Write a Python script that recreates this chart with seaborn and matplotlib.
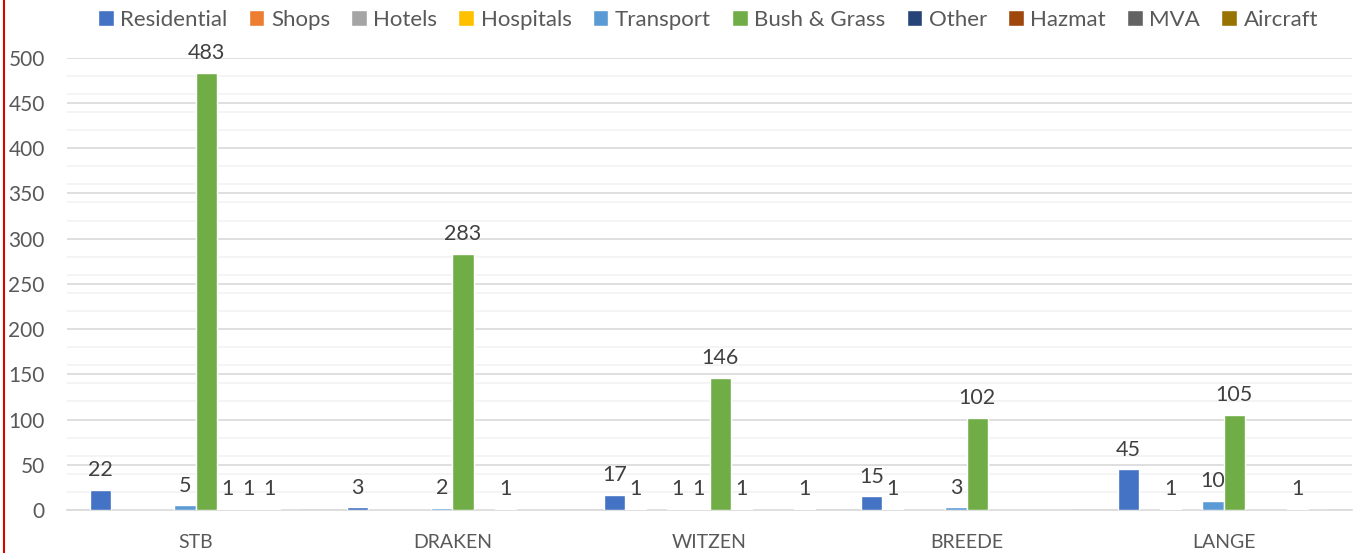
import matplotlib
matplotlib.use("Agg")
import matplotlib.pyplot as plt
import seaborn as sns
import pandas as pd
import numpy as np
from matplotlib.lines import Line2D
from matplotlib.ticker import MultipleLocator

categories = ["STB", "DRAKEN", "WITZEN", "BREEDE", "LANGE"]
series = ["Residential", "Shops", "Hotels", "Hospitals", "Transport",
          "Bush & Grass", "Other", "Hazmat", "MVA", "Aircraft"]
residential = [22, 3, 17, 15, 45]
shops = [0, 0, 1, 1, 0]
hotels = [0, 0, 0, 0, 1]
hospitals = [0, 0, 1, 0, 0]
transport = [5, 2, 1, 3, 10]
bush_grass = [483, 283, 146, 102, 105]
other = [1, 0, 1, 0, 0]
hazmat = [1, 1, 0, 0, 0]
mva = [1, 0, 0, 0, 1]
aircraft = [0, 0, 1, 0, 0]
colors = ["#4472C4", "#ED7D31", "#A5A5A5", "#FFC000", "#5B9BD5",
          "#70AD47", "#264478", "#9E480E", "#636363", "#997300"]

values = [residential, shops, hotels, hospitals, transport,
          bush_grass, other, hazmat, mva, aircraft]
rows = []
for s, vals in zip(series, values):
    for c, v in zip(categories, vals):
        rows.append({"Station": c, "Type": s, "Count": v})
df = pd.DataFrame(rows)

sns.set_style("white")
plt.rcParams["font.family"] = ["Lato", "DejaVu Sans"]
text_color = "#595959"

fig = plt.figure(figsize=(13.59, 5.53), dpi=100)
ax = fig.add_axes([67/1359, 43/553, (1352-67)/1359, (510-57.7)/553])

sns.barplot(data=df, x="Station", y="Count", hue="Type", order=categories,
            hue_order=series, palette=colors, width=0.82, gap=0,
            saturation=1, ax=ax, legend=True, errorbar=None, zorder=3)

for cont, s in zip(ax.containers, series):
    labels = [f"{int(b.get_height())}" if b.get_height() > 0 else "" for b in cont]
    ax.bar_label(cont, labels=labels, padding=7, fontsize=15.5, color="#404040")

ax.set_ylim(0, 500)
ax.yaxis.set_major_locator(MultipleLocator(50))
ax.yaxis.set_minor_locator(MultipleLocator(20))
ax.grid(axis="y", which="major", color="#D9D9D9", linewidth=1.2, zorder=0)
ax.grid(axis="y", which="minor", color="#F2F2F2", linewidth=1.2, zorder=0)
ax.set_axisbelow(True)
for sp in ["top", "right", "left"]:
    ax.spines[sp].set_visible(False)
ax.spines["bottom"].set_color("#D9D9D9")
ax.spines["bottom"].set_linewidth(1.2)
ax.tick_params(axis="y", which="both", length=0, pad=16, labelsize=15, labelcolor=text_color)
ax.tick_params(axis="x", length=0, pad=17, labelsize=14, labelcolor=text_color)
ax.set_xlabel("")
ax.set_ylabel("")

handles, labs = ax.get_legend_handles_labels()
ax.legend(handles, labs, loc="center", bbox_to_anchor=(0.521, 0.964),
          bbox_transform=fig.transFigure, ncol=10, frameon=False,
          handlelength=0.7, handleheight=0.7, handletextpad=0.3,
          columnspacing=0.95, fontsize=16, labelcolor=text_color)

fig.add_artist(Line2D([4/1359, 4/1359], [0, 1], transform=fig.transFigure,
                      color="#E00000", linewidth=1.5))

fig.savefig("out.png", dpi=100, facecolor="white")
